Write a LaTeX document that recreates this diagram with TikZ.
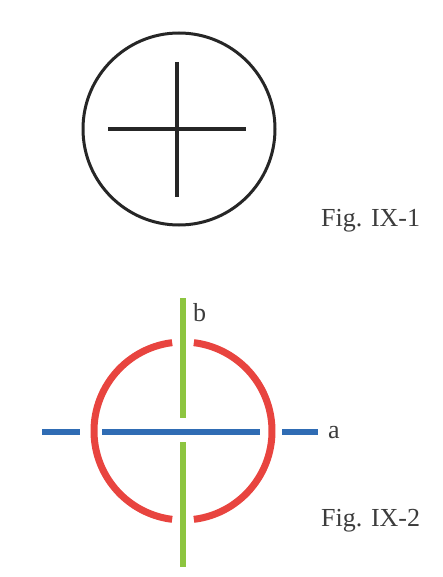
\documentclass[tikz,border=0pt]{standalone}
\usepackage{fontspec}
\setmainfont{Liberation Serif}
\usepackage{tikz}
\usetikzlibrary{positioning}
\definecolor{inkcol}{HTML}{262626}
\definecolor{ringcol}{HTML}{E8443F}
\definecolor{acol}{HTML}{2F6CB4}
\definecolor{bcol}{HTML}{8DC540}

\begin{document}
\begin{tikzpicture}[x=1pt,y=-1pt,every node/.style={font=\fontsize{26}{30}\selectfont,text=inkcol!90,inner sep=0pt}]
  \useasboundingbox (0,0) rectangle (442,577);
  % Fig. IX-1
  \draw[inkcol, line width=3pt] (179,129) circle (96pt);
  \draw[inkcol, line width=3.5pt] (177,62) -- (177,197);
  \draw[inkcol, line width=3.5pt] (108,129) -- (246,129);
  \node[anchor=base west] (fig1) at (321,226) {Fig. IX-1};
  % Fig. IX-2
  \foreach \s/\e in {-83/83, 97/263}
    \draw[ringcol, line width=7pt] (183,431) ++(\s:89pt) arc[start angle=\s, end angle=\e, radius=89pt];
  \foreach \l/\r in {42/80, 102/260, 282/318}
    \draw[acol, line width=6.5pt] (\l,432) -- (\r,432);
  \draw[bcol, line width=5.5pt] (183,298) -- (183,418);
  \draw[bcol, line width=5.5pt] (183,442) -- (183,567);
  \node[anchor=base west] (b) at (193,321) {b};
  \node[anchor=base west] (a) at (328,438) {a};
  \node[anchor=base west] (fig2) at (321,526) {Fig. IX-2};
\end{tikzpicture}
\end{document}
